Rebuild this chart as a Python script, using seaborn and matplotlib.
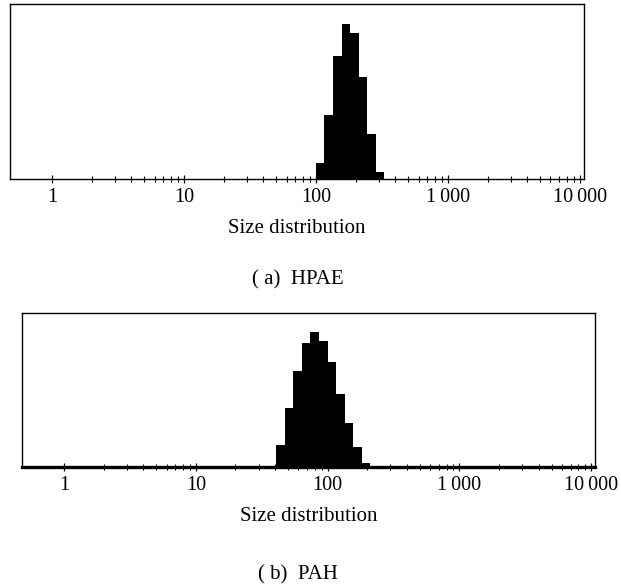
import matplotlib
matplotlib.use('Agg')

import numpy as np
import pandas as pd
import matplotlib.pyplot as plt
import matplotlib.ticker as mticker
import seaborn as sns

# --- 資料 (粒徑 nm, 強度 %) ---
hpae_edges = [100.0, 116.1, 134.9, 156.7, 181.9, 211.3, 245.5, 285.1, 331.1]
hpae_values = [2.4, 9.7, 18.7, 23.6, 22.2, 15.5, 6.8, 1.1]

pah_edges = [40.7, 47.3, 55.0, 63.8, 74.1, 86.1, 100.0, 116.1, 134.9, 156.7, 182.0, 211.3]
pah_values = [2.7, 7.3, 11.9, 15.4, 16.7, 15.6, 13.0, 9.1, 5.4, 2.5, 0.5]

major_ticks = [1, 10, 100, 1000, 10000]
major_labels = ['1', '10', '100', '1\u2009000', '10\u2009000']
minor_ticks = [m * 10 ** k for k in range(4) for m in range(2, 10)]

panels = [
    ('( a)  HPAE', hpae_edges, hpae_values, 26.6, [0.016, 0.6935, 0.924, 0.2997], 1.0, 0.521),
    ('( b)  PAH', pah_edges, pah_values, 19.1, [0.0354, 0.2003, 0.923, 0.2637], 2.4, 0.016),
]

sns.set_theme(style='white')
plt.rcParams['font.family'] = ['Liberation Serif', 'DejaVu Serif']
plt.rcParams['text.color'] = 'black'
plt.rcParams['axes.labelcolor'] = 'black'
plt.rcParams['xtick.color'] = 'black'

fig = plt.figure(figsize=(6.21, 5.84), dpi=100)

for caption, edges, values, ymax, rect, base_lw, cap_y in panels:
    ax = fig.add_axes(rect)
    edges = np.array(edges)
    centers = np.sqrt(edges[:-1] * edges[1:])
    df = pd.DataFrame({'size': centers, 'intensity': values})
    sns.histplot(data=df, x='size', weights='intensity', bins=list(np.log10(edges)),
                 log_scale=True, color='black', edgecolor='black', linewidth=0,
                 alpha=1, ax=ax)
    ax.set_xlim(0.48, 10720)
    ax.set_ylim(0, ymax)
    ax.set_yticks([])
    ax.set_ylabel('')
    ax.set_xlabel('Size distribution', fontsize=15, labelpad=8.5)
    ax.xaxis.set_major_locator(mticker.FixedLocator(major_ticks))
    ax.xaxis.set_major_formatter(mticker.FixedFormatter(major_labels))
    ax.xaxis.set_minor_locator(mticker.FixedLocator(minor_ticks))
    ax.xaxis.set_minor_formatter(mticker.NullFormatter())
    ax.tick_params(axis='x', which='major', direction='inout', length=6, width=0.9,
                   color='black', labelcolor='black', labelsize=14.5, pad=3.5, bottom=True)
    ax.tick_params(axis='x', which='minor', direction='inout', length=5, width=0.8,
                   color='black', bottom=True)
    for name, sp in ax.spines.items():
        sp.set_color('black')
        sp.set_linewidth(1.0)
    ax.spines['bottom'].set_linewidth(base_lw)
    fig.text(0.48, cap_y, caption, ha='center', va='center', fontsize=15)

plt.savefig('out.png', dpi=100)
plt.close()
